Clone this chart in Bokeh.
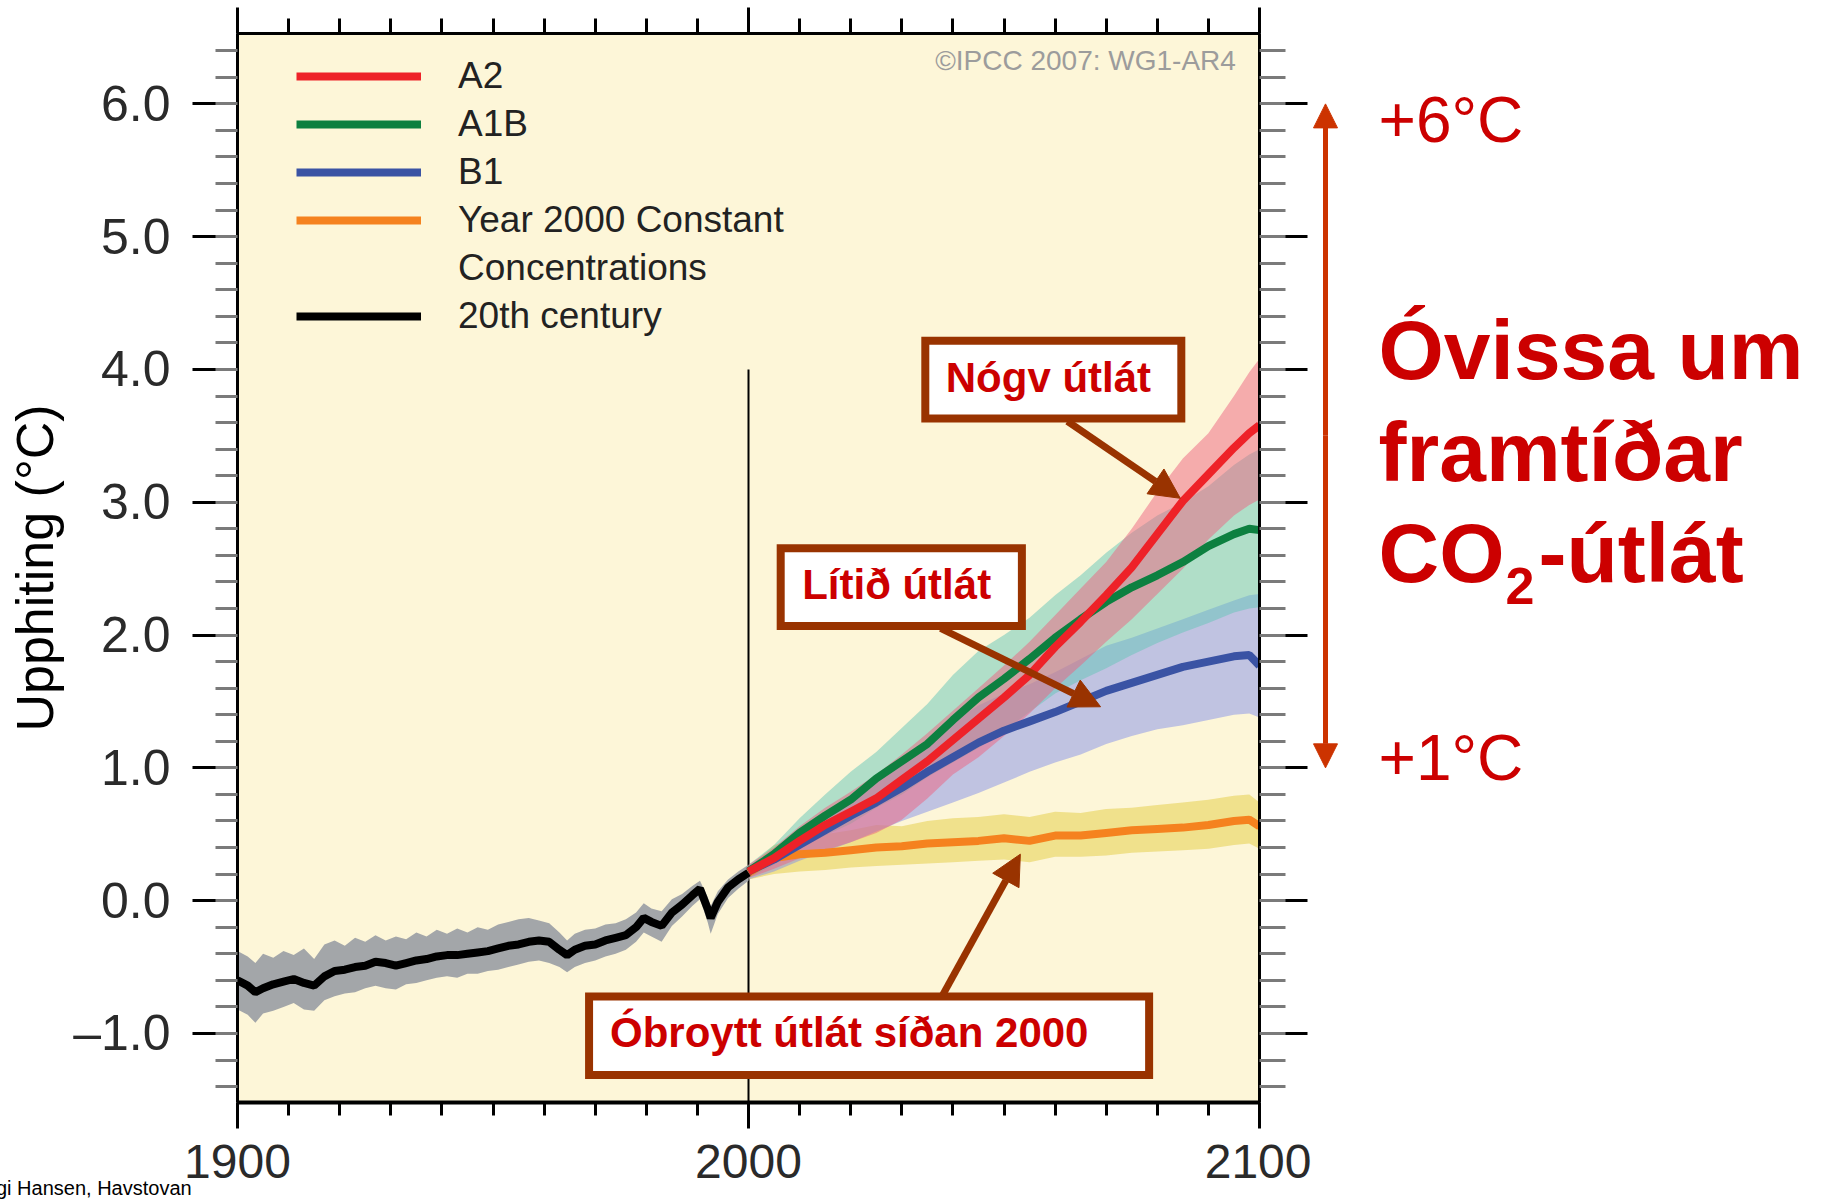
from bokeh.plotting import figure
from bokeh.models import (Range1d, LinearAxis, FixedTicker, SingleIntervalTicker,
                          CustomJSTickFormatter, Legend, LegendItem, Label, Arrow, NormalHead, Div)
from bokeh.layouts import row, column
from bokeh.embed import file_html
from bokeh.resources import INLINE

# ---------------- data ----------------
hist_years = [1900, 1902, 1903.5, 1905, 1907, 1909, 1911, 1913, 1915, 1917, 1919, 1921, 1923,
              1925, 1927, 1929, 1931, 1933, 1935, 1937, 1939, 1941, 1943, 1945, 1947, 1949,
              1951, 1953, 1955, 1957, 1959, 1961, 1963, 1964.5, 1966, 1968, 1970, 1972, 1974,
              1976, 1978, 1979.5, 1981, 1983, 1985, 1987, 1989, 1990.5, 1992, 1992.6, 1994,
              1996, 1998, 2000]
hist_mean = [-0.60, -0.64, -0.69, -0.66, -0.63, -0.61, -0.59, -0.62, -0.64, -0.57, -0.53, -0.52,
             -0.50, -0.49, -0.46, -0.47, -0.49, -0.47, -0.45, -0.44, -0.42, -0.41, -0.41, -0.40,
             -0.39, -0.38, -0.36, -0.34, -0.33, -0.31, -0.30, -0.31, -0.37, -0.41, -0.37, -0.34,
             -0.33, -0.30, -0.28, -0.26, -0.20, -0.13, -0.16, -0.19, -0.09, -0.03, 0.04, 0.09,
             -0.06, -0.13, -0.01, 0.10, 0.16, 0.21]
hist_upper = [-0.38, -0.42, -0.47, -0.40, -0.43, -0.38, -0.41, -0.36, -0.44, -0.33, -0.30, -0.34,
              -0.28, -0.31, -0.26, -0.30, -0.27, -0.29, -0.24, -0.27, -0.22, -0.25, -0.21, -0.24,
              -0.20, -0.22, -0.18, -0.16, -0.14, -0.13, -0.15, -0.17, -0.24, -0.30, -0.25, -0.22,
              -0.21, -0.18, -0.17, -0.14, -0.09, -0.02, -0.06, -0.08, 0.01, 0.05, 0.11, 0.15,
              0.03, -0.04, 0.07, 0.16, 0.22, 0.27]
hist_lower = [-0.82, -0.86, -0.92, -0.85, -0.83, -0.80, -0.77, -0.82, -0.83, -0.75, -0.72, -0.70,
              -0.69, -0.66, -0.64, -0.66, -0.67, -0.63, -0.62, -0.60, -0.58, -0.57, -0.58, -0.55,
              -0.55, -0.53, -0.52, -0.50, -0.48, -0.46, -0.45, -0.47, -0.50, -0.54, -0.50, -0.47,
              -0.45, -0.42, -0.40, -0.37, -0.31, -0.24, -0.27, -0.31, -0.19, -0.12, -0.04, 0.01,
              -0.16, -0.25, -0.10, 0.02, 0.09, 0.15]

proj_years = [2000, 2005, 2010, 2015, 2020, 2025, 2030, 2035, 2040, 2045, 2050, 2055, 2060,
              2065, 2070, 2075, 2080, 2085, 2090, 2095, 2098, 2100]

a2_mean = [0.22, 0.32, 0.45, 0.57, 0.67, 0.77, 0.91, 1.05, 1.21, 1.37, 1.53, 1.70, 1.91, 2.10,
           2.30, 2.51, 2.76, 3.01, 3.21, 3.41, 3.52, 3.58]
a2_upper = [0.27, 0.40, 0.56, 0.70, 0.82, 0.95, 1.10, 1.26, 1.43, 1.60, 1.77, 1.95, 2.15, 2.35,
            2.55, 2.80, 3.08, 3.33, 3.52, 3.80, 3.98, 4.08]
a2_lower = [0.17, 0.24, 0.32, 0.38, 0.44, 0.51, 0.61, 0.77, 0.95, 1.08, 1.24, 1.41, 1.60, 1.77,
            1.95, 2.12, 2.31, 2.50, 2.72, 2.90, 2.98, 3.02]

a1b_mean = [0.22, 0.35, 0.51, 0.64, 0.76, 0.92, 1.05, 1.18, 1.36, 1.53, 1.67, 1.82, 1.98, 2.12,
            2.25, 2.36, 2.45, 2.55, 2.67, 2.76, 2.80, 2.79]
a1b_upper = [0.27, 0.42, 0.62, 0.80, 0.97, 1.12, 1.30, 1.48, 1.70, 1.88, 2.00, 2.13, 2.30, 2.45,
             2.62, 2.77, 2.90, 3.00, 3.12, 3.28, 3.36, 3.40]
a1b_lower = [0.17, 0.27, 0.39, 0.49, 0.58, 0.70, 0.80, 0.93, 1.04, 1.15, 1.28, 1.42, 1.56, 1.66,
             1.75, 1.85, 1.94, 2.02, 2.09, 2.17, 2.20, 2.21]

b1_mean = [0.22, 0.31, 0.42, 0.53, 0.64, 0.74, 0.85, 0.97, 1.08, 1.19, 1.28, 1.35, 1.42, 1.50,
           1.58, 1.64, 1.70, 1.76, 1.80, 1.84, 1.85, 1.77]
b1_upper = [0.26, 0.38, 0.52, 0.66, 0.78, 0.90, 1.05, 1.20, 1.35, 1.47, 1.56, 1.63, 1.72, 1.82,
            1.92, 1.98, 2.05, 2.12, 2.19, 2.26, 2.30, 2.31]
b1_lower = [0.16, 0.22, 0.30, 0.37, 0.44, 0.52, 0.60, 0.67, 0.74, 0.81, 0.89, 0.97, 1.04, 1.10,
            1.18, 1.24, 1.29, 1.32, 1.36, 1.40, 1.41, 1.38]

commit_mean = [0.21, 0.32, 0.35, 0.36, 0.38, 0.40, 0.41, 0.43, 0.44, 0.45, 0.47, 0.45, 0.49,
               0.49, 0.51, 0.53, 0.54, 0.55, 0.57, 0.60, 0.61, 0.56]
commit_upper = [0.25, 0.42, 0.48, 0.50, 0.53, 0.57, 0.56, 0.60, 0.62, 0.63, 0.65, 0.63, 0.67,
                0.66, 0.69, 0.70, 0.72, 0.74, 0.76, 0.79, 0.80, 0.74]
commit_lower = [0.16, 0.20, 0.22, 0.23, 0.25, 0.26, 0.27, 0.28, 0.29, 0.30, 0.31, 0.29, 0.33,
                0.33, 0.34, 0.36, 0.37, 0.38, 0.39, 0.42, 0.43, 0.39]

x_tick_years = [1900, 2000, 2100]
x_minor_years = [1910, 1920, 1930, 1940, 1950, 1960, 1970, 1980, 1990,
                 2010, 2020, 2030, 2040, 2050, 2060, 2070, 2080, 2090]

legend_labels = ["A2", "A1B", "B1", "Year 2000 Constant", "Concentrations", "20th century"]

# ---------------- styling constants ----------------
FONT = "Liberation Sans"
NARROW = "'Liberation Sans Narrow', 'Liberation Sans', sans-serif"
CREAM = "#fdf6d8"
BROWN = "#993300"
RED_TXT = "#cc0000"
ARROW_RED = "#cc3300"
H = 1199
TOP = 33
BOTTOM = 97

p = figure(width=1311, height=H,
           x_range=Range1d(1900, 2100), y_range=Range1d(-1.52, 6.53),
           output_backend="svg", toolbar_location=None,
           x_axis_location=None, y_axis_location=None,
           min_border_left=237, min_border_right=52, min_border_top=TOP, min_border_bottom=BOTTOM)
p.background_fill_color = CREAM
p.border_fill_color = "white"
p.outline_line_color = "black"
p.outline_line_width = 2
p.xgrid.visible = False
p.ygrid.visible = False

# ---------- axes ----------
yticker = SingleIntervalTicker(interval=1, num_minor_ticks=5)
xticker = FixedTicker(ticks=x_tick_years, minor_ticks=x_minor_years)
blank = CustomJSTickFormatter(code="return '';")

def style_axis(ax, major_out, minor_out):
    ax.axis_line_color = "black"
    ax.axis_line_width = 3
    ax.major_tick_line_color = "black"
    ax.major_tick_line_width = 3
    ax.minor_tick_line_color = "#7a7a7a"
    ax.minor_tick_line_width = 3
    ax.major_tick_in = 0
    ax.minor_tick_in = 0
    ax.major_tick_out = major_out
    ax.minor_tick_out = minor_out

left = LinearAxis(ticker=yticker,
                  formatter=CustomJSTickFormatter(code="return (tick < 0 ? '\\u2013' : '') + Math.abs(tick).toFixed(1);"),
                  axis_label="Upphiting (°C)")
style_axis(left, 45, 22)
left.major_label_text_font = FONT
left.major_label_text_font_size = "50px"
left.major_label_text_color = "#2a2a2a"
left.major_label_standoff = 22
left.axis_label_text_font = FONT
left.axis_label_text_font_size = "52px"
left.axis_label_text_font_style = "normal"
left.axis_label_text_color = "black"
left.axis_label_standoff = 6
p.add_layout(left, "left")

right = LinearAxis(ticker=yticker, formatter=blank)
style_axis(right, 48, 26)
right.major_label_text_font_size = "1px"
right.major_label_standoff = 0
p.add_layout(right, "right")

bottom = LinearAxis(ticker=xticker)
style_axis(bottom, 26, 13)
bottom.axis_line_width = 4
bottom.minor_tick_line_color = "black"
bottom.major_label_text_font = NARROW
bottom.major_label_text_font_size = "48px"
bottom.major_label_text_color = "#2a2a2a"
bottom.major_label_standoff = 16
p.add_layout(bottom, "below")

top = LinearAxis(ticker=xticker, formatter=blank)
style_axis(top, 26, 15)
top.minor_tick_line_color = "black"
top.major_label_text_font_size = "1px"
top.major_label_standoff = 0
p.add_layout(top, "above")

# ---------- divider line at 2000 ----------
divider_year = 2000
divider_top = 4.0
p.segment(x0=[divider_year], y0=[divider_top], x1=[divider_year], y1=[-1.52],
          line_color="black", line_width=2)

# ---------- uncertainty bands ----------
p.varea(x=proj_years, y1=commit_lower, y2=commit_upper, fill_color="#e3cc40", fill_alpha=0.5)
p.varea(x=proj_years, y1=b1_lower, y2=b1_upper, fill_color="#8390ea", fill_alpha=0.5)
p.varea(x=proj_years, y1=a1b_lower, y2=a1b_upper, fill_color="#63c6b8", fill_alpha=0.5)
p.varea(x=proj_years, y1=a2_lower, y2=a2_upper, fill_color="#ed6280", fill_alpha=0.5)
p.varea(x=hist_years, y1=hist_lower, y2=hist_upper, fill_color="#a3a6a9")

# ---------- mean lines ----------
r_commit = p.line(proj_years, commit_mean, line_color="#f5821f", line_width=8)
r_b1 = p.line(proj_years, b1_mean, line_color="#3a53a4", line_width=8)
r_a1b = p.line(proj_years, a1b_mean, line_color="#0d8040", line_width=8)
r_a2 = p.line(proj_years, a2_mean, line_color="#ee2228", line_width=8)
r_hist = p.line(hist_years, hist_mean, line_color="black", line_width=8)
r_blank = p.line([], [], line_alpha=0)

legend = Legend(items=[
    LegendItem(label=legend_labels[0], renderers=[r_a2]),
    LegendItem(label=legend_labels[1], renderers=[r_a1b]),
    LegendItem(label=legend_labels[2], renderers=[r_b1]),
    LegendItem(label=legend_labels[3], renderers=[r_commit]),
    LegendItem(label=legend_labels[4], renderers=[r_blank]),
    LegendItem(label=legend_labels[5], renderers=[r_hist]),
], location=(59, 762), glyph_width=125, glyph_height=48, label_height=48,
    label_standoff=37, spacing=0, padding=0, margin=0,
    label_text_font=FONT, label_text_font_size="37px", label_text_color="#222222",
    background_fill_alpha=0, border_line_alpha=0)
p.add_layout(legend)

p.add_layout(Label(x=2096.9, y=6.33, text="©IPCC  2007: WG1-AR4", text_font=FONT,
                   text_font_size="28px", text_color="#9c9c9c", text_align="right",
                   text_baseline="middle"))

# ---------- callout boxes ----------
box_left = [2034.6, 2006.3, 1968.8]
box_right = [2084.7, 2053.5, 2078.4]
box_top = [4.217, 2.653, -0.721]
box_bottom = [3.630, 2.068, -1.313]
p.quad(left=box_left, right=box_right, top=box_top, bottom=box_bottom,
       fill_color="white", line_color=BROWN, line_width=8, line_join="miter")

for (tx, ty, txt, fs) in [(2038.6, 3.938, "Nógv útlát", "42px"),
                          (2010.5, 2.377, "Lítið útlát", "42px"),
                          (1972.9, -0.996, "Óbroytt útlát síðan 2000", "42px")]:
    p.add_layout(Label(x=tx, y=ty, text=txt, text_font=FONT, text_font_style="bold",
                       text_font_size=fs, text_color=RED_TXT, text_baseline="alphabetic"))

for (x0, y0, x1, y1) in [(2062.4, 3.61, 2084.5, 3.03),
                         (2037.6, 2.05, 2068.9, 1.46),
                         (2038.0, -0.71, 2053.2, 0.35)]:
    p.add_layout(Arrow(x_start=x0, y_start=y0, x_end=x1, y_end=y1,
                       line_color=BROWN, line_width=7,
                       end=NormalHead(size=30, fill_color=BROWN, line_color=BROWN)))

# ---------- right-hand commentary panel (pixel x coordinates, shared y scale) ----------
q = figure(width=496, height=H, x_range=Range1d(1311, 1807), y_range=p.y_range,
           output_backend="svg", toolbar_location=None,
           x_axis_location=None, y_axis_location=None,
           min_border_left=0, min_border_right=0, min_border_top=TOP, min_border_bottom=BOTTOM)
q.background_fill_color = "white"
q.border_fill_color = "white"
q.outline_line_color = None
q.xgrid.visible = False
q.ygrid.visible = False

range_low, range_high, range_mid = 1.0, 6.0, 3.5
for y_tip in (range_high, range_low):
    q.add_layout(Arrow(x_start=1325, y_start=range_mid, x_end=1325, y_end=y_tip,
                       line_color=ARROW_RED, line_width=5,
                       end=NormalHead(size=24, fill_color=ARROW_RED, line_color=ARROW_RED)))
q.add_layout(Label(x=1378, y=5.881, text="+6°C", text_font=FONT, text_font_size="64px",
                   text_color=RED_TXT, text_baseline="alphabetic"))
q.add_layout(Label(x=1378, y=1.072, text="+1°C", text_font=FONT, text_font_size="64px",
                   text_color=RED_TXT, text_baseline="alphabetic"))
for (tx, ty, txt, fs) in [(1378, 4.144, "Óvissa um", "84px"),
                          (1378, 3.379, "framtíðar", "84px"),
                          (1378, 2.618, "CO", "84px"),
                          (1505, 2.366, "2", "52px"),
                          (1538, 2.618, "-útlát", "84px")]:
    q.add_layout(Label(x=tx, y=ty, text=txt, text_font=FONT, text_font_style="bold",
                       text_font_size=fs, text_color=RED_TXT, text_baseline="alphabetic"))

footer = Div(text="gi Hansen, Havstovan", width=220, height=22,
             styles={"margin-top": "-22px", "margin-left": "-4px",
                     "font-family": "'Liberation Sans Narrow', 'Liberation Sans', sans-serif",
                     "font-size": "20px", "line-height": "22px", "color": "black",
                     "white-space": "nowrap"})

layout = column(row(p, q), footer)
open("out.html", "w").write(file_html(layout, INLINE))
